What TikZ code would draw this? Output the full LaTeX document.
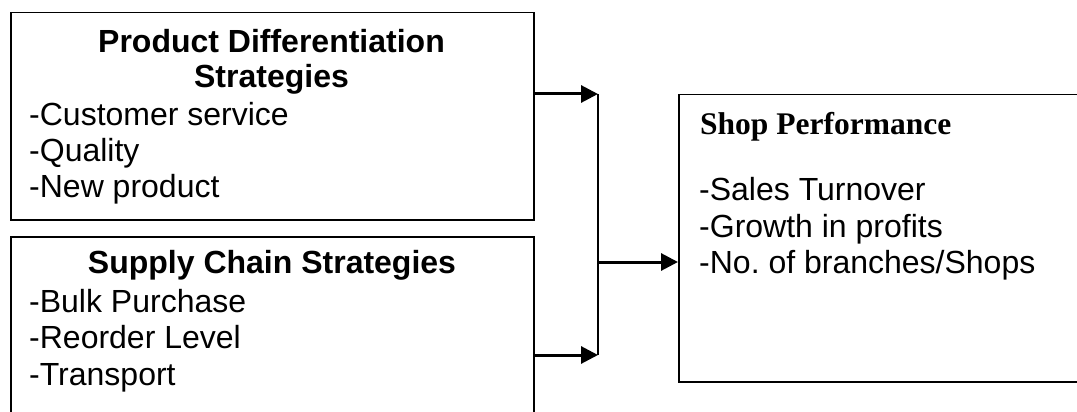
\documentclass[tikz,border=0pt]{standalone}
\usepackage{fontspec}
\setmainfont{Liberation Sans}
\newfontfamily\timesfont{Liberation Serif}
\usetikzlibrary{arrows.meta}
\frenchspacing
\begin{document}
\begin{tikzpicture}[x=1pt,y=-1pt,
  boxnode/.style={draw, line width=1.5pt, inner sep=0pt, anchor=north west},
  txt/.style={inner sep=0pt, anchor=base west, font=\fontsize{32}{36}\selectfont},
  ttl/.style={inner sep=0pt, anchor=base, font=\fontsize{32}{36}\selectfont\bfseries},
  sttl/.style={inner sep=0pt, anchor=base west, font=\fontsize{31.5}{36}\selectfont\timesfont\bfseries},
  arr/.style={line width=3pt, -{Triangle[length=17pt 0,width=17pt 0]}},
  conn/.style={line width=2.2pt}]
\useasboundingbox (0,0) rectangle (1077,412);
\clip (0,0) rectangle (1077,412);
% boxes
\node[boxnode, minimum width=523pt, minimum height=207pt] (b1) at (10,12) {};
\node[boxnode, minimum width=523pt, minimum height=200pt] (b2) at (10,236) {};
\node[boxnode, minimum width=440pt, minimum height=287pt] (sp) at (678,94) {};
% box 1 text
\node[ttl] (t1a) at (271.5,53) {Product Differentiation};
\node[ttl] (t1b) at (271.5,88) {Strategies};
\node[txt] (i1a) at (29,125) {-Customer service};
\node[txt] (i1b) at (29,161) {-Quality};
\node[txt] (i1c) at (29,197) {-New product};
% box 2 text
\node[ttl] (t2a) at (272,273) {Supply Chain Strategies};
\node[txt] (i2a) at (29,312) {-Bulk Purchase};
\node[txt] (i2b) at (29,348) {-Reorder Level};
\node[txt] (i2c) at (29,385) {-Transport};
% shop text
\node[sttl] (t3) at (700,135) {Shop Performance};
\node[txt] (i3a) at (699,200) {-Sales Turnover};
\node[txt] (i3b) at (699,237) {-Growth in profits};
\node[txt] (i3c) at (699,273) {-No. of branches/Shops};
% connectors
\coordinate (j1) at (598,94);
\coordinate (j2) at (598,355);
\coordinate (jm) at (598,262);
\draw[arr] (b1.east |- j1) -- (j1);
\draw[arr] (b2.east |- j2) -- (j2);
\draw[conn] (j1) -- (j2);
\draw[arr] (jm) -- (sp.west |- jm);
\end{tikzpicture}
\end{document}
